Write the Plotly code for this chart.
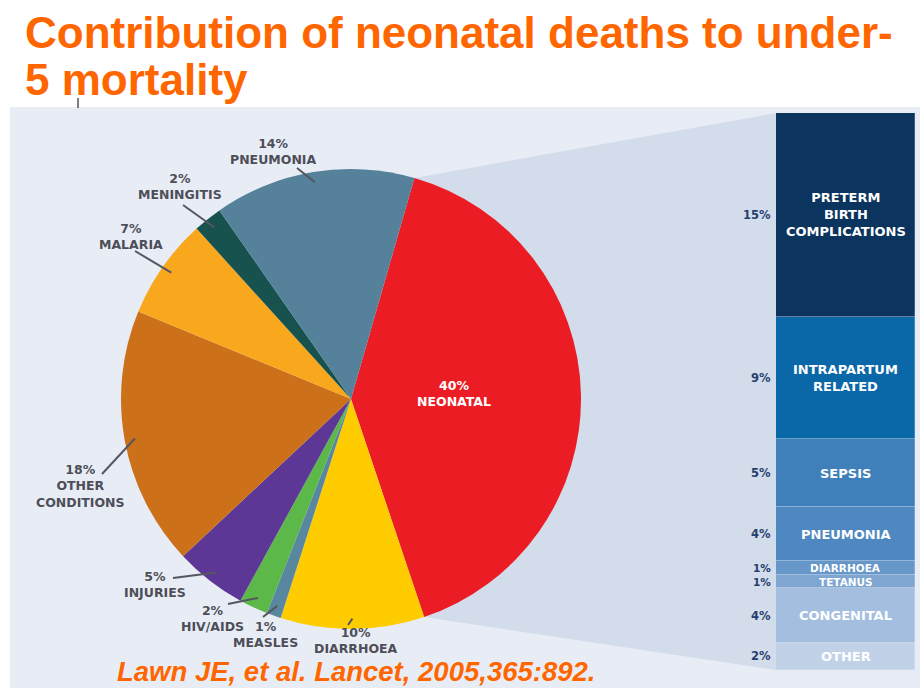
import math
import plotly.graph_objects as go

W, H = 920, 690

# ---------------- data ----------------
pie_labels = ["NEONATAL", "DIARRHOEA", "MEASLES", "HIV/AIDS", "INJURIES",
              "OTHER<br>CONDITIONS", "MALARIA", "MENINGITIS", "PNEUMONIA"]
pie_values = [40, 10, 1, 2, 5, 18, 7, 2, 14]
pie_colors = ["#EC1C24", "#FFCC00", "#5A87A0", "#5DB84A", "#5C3795",
              "#CC7119", "#F9A81E", "#17524F", "#56819A"]

neo_labels = ["PRETERM<br>BIRTH<br>COMPLICATIONS", "INTRAPARTUM<br>RELATED", "SEPSIS",
              "PNEUMONIA", "DIARRHOEA", "TETANUS", "CONGENITAL", "OTHER"]
neo_values = [15, 9, 5, 4, 1, 1, 4, 2]
neo_colors = ["#0B345E", "#0A68A8", "#3F80BA", "#4F88C0", "#6797C9",
              "#7EA6D1", "#A3BEDF", "#C0D1E8"]

title_lines = ["Contribution of neonatal deaths to under-", "5 mortality"]
citation = "Lawn JE, et al. Lancet, 2005,365:892."

# ---------------- layout helpers ----------------
def fx(px):
    return px / W

def fy(py):
    return 1 - py / H

CX, CY, R = 351, 399, 230          # pie centre / radius in pixels
ROT = 16                            # start angle of first slice (clockwise from 12 o'clock)
BAR_X0, BAR_X1, BAR_Y0, BAR_Y1 = 776, 915, 113, 670

total = sum(pie_values)
angles = []
a = ROT
for v in pie_values:
    a0 = a
    a += 360 * v / total
    angles.append((a0, a))

def polar(angle_deg, rad):
    t = math.radians(angle_deg)
    return CX + rad * math.sin(t), CY - rad * math.cos(t)

label_col = "#4D4E58"
lab_font = dict(family="DejaVu Sans", size=12.5, color=label_col, weight="bold")

fig = go.Figure()

fig.add_trace(go.Pie(
    values=pie_values, labels=pie_labels, sort=False, direction="clockwise",
    rotation=ROT, textinfo="none", hoverinfo="skip", showlegend=False,
    marker=dict(colors=pie_colors, line=dict(width=0)),
    domain=dict(x=[fx(CX - R), fx(CX + R)], y=[fy(CY + R), fy(CY - R)]),
))

for lab, v, c in zip(neo_labels, neo_values, neo_colors):
    fig.add_trace(go.Bar(
        x=[0], y=[v], width=1,
        marker=dict(color=c, line=dict(width=0.6, color="rgba(255,255,255,0.35)")),
        hoverinfo="skip", showlegend=False, xaxis="x", yaxis="y",
    ))

shapes = []
annos = []

# background panel
shapes.append(dict(type="rect", xref="paper", yref="paper", x0=fx(10), x1=1.0,
                   y0=fy(688), y1=fy(107), fillcolor="#E8EDF5", line=dict(width=0), layer="below"))

# connecting wedge from neonatal slice to bar
s_x, s_y = polar(angles[0][0], R)
e_x, e_y = polar(angles[0][1], R)
path = (f"M {fx(s_x)},{fy(s_y)} L {fx(BAR_X0)},{fy(BAR_Y0)} L {fx(BAR_X0)},{fy(BAR_Y1)} "
        f"L {fx(e_x)},{fy(e_y)} L {fx(CX)},{fy(CY)} Z")
shapes.append(dict(type="path", xref="paper", yref="paper", path=path,
                   fillcolor="#D3DCEB", line=dict(width=0), layer="below"))

# stray tick mark under title
shapes.append(dict(type="line", xref="paper", yref="paper", x0=fx(78), x1=fx(78),
                   y0=fy(98), y1=fy(108), line=dict(color="#000000", width=1)))

# pie labels: (text block centre x, centre y, outer end of leader line)
pie_label_pos = {
    "PNEUMONIA": (273, 151, (297, 168)),
    "MENINGITIS": (180, 186, (183, 205)),
    "MALARIA": (131, 236, (135, 251)),
    "OTHER<br>CONDITIONS": (80, 486, (102, 474)),
    "INJURIES": (155, 584, (173, 578)),
    "HIV/AIDS": (212, 618, (228, 604)),
    "MEASLES": (265, 634, (263, 617)),
    "DIARRHOEA": (356, 640, (348, 625)),
}

for lab, v, (a0, a1) in zip(pie_labels, pie_values, angles):
    mid = (a0 + a1) / 2
    text = f"{v}%<br>{lab}"
    if lab == "NEONATAL":
        tx, ty = polar(mid, 0.45 * R)
        annos.append(dict(xref="paper", yref="paper", x=fx(tx), y=fy(ty - 3), text=text,
                          showarrow=False, xanchor="center", yanchor="middle",
                          font=dict(lab_font, color="#FFFFFF")))
        continue
    x_c, y_c, (ox, oy) = pie_label_pos[lab]
    annos.append(dict(xref="paper", yref="paper", x=fx(x_c), y=fy(y_c), text=text,
                      showarrow=False, xanchor="center", yanchor="middle", font=lab_font))
    ix, iy = polar(mid, 0.955 * R)
    shapes.append(dict(type="line", xref="paper", yref="paper", x0=fx(ox), y0=fy(oy),
                       x1=fx(ix), y1=fy(iy), line=dict(color="#55565F", width=2)))

# bar labels
cum = 0
pct_font = dict(family="DejaVu Sans", size=11.5, color="#24406E", weight="bold")
for lab, v in zip(neo_labels, neo_values):
    mid = cum + v / 2
    cum += v
    size = 13 if v > 1 else 10.5
    annos.append(dict(xref="x", yref="y", x=0, y=mid, text=lab, showarrow=False,
                      xanchor="center", yanchor="middle",
                      font=dict(family="DejaVu Sans", size=size, color="#FFFFFF", weight="bold")))
    annos.append(dict(xref="paper", yref="y", x=fx(773), y=mid, text=f"{v}%", showarrow=False,
                      xanchor="right", yanchor="middle", font=dict(pct_font, size=min(11.5, size))))

# title
title_font = dict(family="Liberation Sans, Arial, sans-serif", size=44, color="#FF6600", weight="bold")
for i, t in enumerate(title_lines):
    annos.append(dict(xref="paper", yref="paper", x=fx(23), y=fy(33 + 47 * i), text=t,
                      showarrow=False, xanchor="left", yanchor="middle", font=title_font))

# citation
annos.append(dict(xref="paper", yref="paper", x=fx(356), y=fy(671), text=citation, showarrow=False,
                  xanchor="center", yanchor="middle",
                  font=dict(family="Liberation Sans", size=27.5, color="#FF6600",
                            weight="bold", style="italic")))

fig.update_layout(
    width=W, height=H, margin=dict(l=0, r=0, t=0, b=0),
    paper_bgcolor="#FFFFFF", plot_bgcolor="rgba(0,0,0,0)",
    barmode="stack", bargap=0,
    xaxis=dict(domain=[fx(BAR_X0), fx(BAR_X1)], range=[-0.5, 0.5], visible=False, fixedrange=True),
    yaxis=dict(domain=[fy(BAR_Y1), fy(BAR_Y0)], range=[sum(neo_values), 0], visible=False,
               fixedrange=True),
    shapes=shapes, annotations=annos,
)

fig.write_html("out.html", config={"displayModeBar": False},
               post_script="document.body.style.margin='0px';")
